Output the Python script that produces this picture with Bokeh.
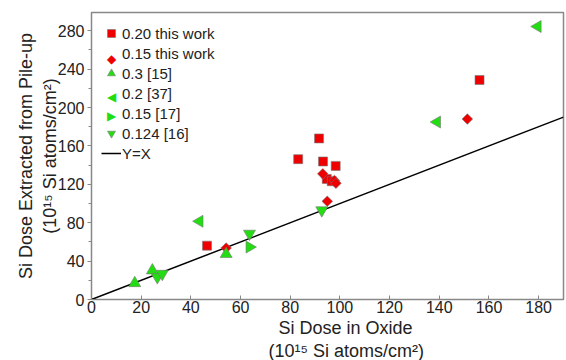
import numpy as np
from bokeh.plotting import figure
from bokeh.models import Range1d, SingleIntervalTicker, Legend, LegendItem, Label, Title
from bokeh.embed import file_html
from bokeh.resources import INLINE

# Data
sq_x = [46.5, 83.2, 91.6, 93.2, 98.3, 94.7, 96.7, 156.2]
sq_y = [56.1, 146.2, 167.8, 143.8, 139.2, 125.6, 123.2, 228.7]
dm_x = [54.2, 93.1, 97.8, 98.4, 94.9, 151.3]
dm_y = [53.6, 130.9, 124.0, 121.1, 102.3, 188.0]
up_x = [17.4, 24.5, 54.2]
up_y = [17.0, 30.3, 47.3]
lt_x = [43.5, 139.1, 179.6]
lt_y = [81.5, 184.9, 284.4]
rt_x = [63.6]
rt_y = [54.6]
dn_x = [26.5, 28.5, 63.6, 92.7]
dn_y = [23.3, 26.8, 68.6, 93.0]
line_x = [0, 190]
line_y = [0, 190]

labels = ["0.20 this work", "0.15 this work", "0.3 [15]", "0.2 [37]",
          "0.15 [17]", "0.124 [16]", "Y=X"]
x_title = ["Si Dose in Oxide", "(10\u00b9\u2075 Si atoms/cm\u00b2)"]
y_title = "Si Dose Extracted from Pile-up\n(10\u00b9\u2075 Si atoms/cm\u00b2)"

FONT = "Liberation Sans"
RED = "#ee0000"
GREEN = "#22dd11"
EDGE = "#777777"
TXT = "#222222"

p = figure(width=566, height=360, output_backend="svg", toolbar_location=None,
           x_range=Range1d(0, 190), y_range=Range1d(0, 299),
           min_border_left=91, min_border_right=3, min_border_top=12,
           min_border_bottom=0)

p.grid.visible = False
p.outline_line_color = "#888888"
p.outline_line_width = 1.5
p.background_fill_color = "white"

p.xaxis.ticker = SingleIntervalTicker(interval=20, num_minor_ticks=0)
p.yaxis.ticker = SingleIntervalTicker(interval=40, num_minor_ticks=2)
for ax in (p.xaxis[0], p.yaxis[0]):
    ax.axis_line_color = "#888888"
    ax.major_tick_line_color = "#888888"
    ax.minor_tick_line_color = "#888888"
    ax.major_label_text_font = FONT
    ax.major_label_text_font_size = "16px"
    ax.major_label_text_color = TXT
    ax.axis_label_text_font = FONT
    ax.axis_label_text_font_size = "18px"
    ax.axis_label_text_font_style = "normal"
    ax.axis_label_text_color = TXT
p.xaxis.major_tick_in = 4
p.xaxis.major_tick_out = 0
p.yaxis.major_tick_in = 0
p.yaxis.major_tick_out = 4
p.yaxis.minor_tick_in = 0
p.yaxis.minor_tick_out = 3
p.xaxis.major_label_standoff = 1
p.yaxis.major_label_standoff = 3
p.yaxis.axis_label = y_title
p.yaxis.axis_label_standoff = -5

r_line = p.line(line_x, line_y, line_color="black", line_width=1.5)
r_sq = p.scatter(sq_x, sq_y, marker="square", size=9, fill_color=RED,
                 line_color=EDGE, line_width=0.6)
r_dm = p.scatter(dm_x, dm_y, marker="square", size=7.5, angle=np.pi / 4,
                 fill_color=RED, line_color=EDGE, line_width=0.6)
r_up = p.scatter(up_x, up_y, marker="triangle", size=12, fill_color=GREEN,
                 line_color=EDGE, line_width=0.6)
r_lt = p.scatter(lt_x, lt_y, marker="triangle", size=12, angle=np.pi / 2,
                 fill_color=GREEN, line_color=EDGE, line_width=0.6)
r_rt = p.scatter(rt_x, rt_y, marker="triangle", size=12, angle=-np.pi / 2,
                 fill_color=GREEN, line_color=EDGE, line_width=0.6)
r_dn = p.scatter(dn_x, dn_y, marker="inverted_triangle", size=12,
                 fill_color=GREEN, line_color=EDGE, line_width=0.6)
# transparent stand-ins for legend rows whose icon is rotated
r_blank = p.scatter([], [], marker="square", size=1, fill_alpha=0, line_alpha=0)

legend_renderers = [r_sq, r_blank, r_up, r_blank, r_blank, r_dn, r_line]
legend = Legend(items=[LegendItem(label=labels[i], renderers=[r])
                       for i, r in enumerate(legend_renderers)],
                location=(10, 136))
legend.border_line_color = None
legend.background_fill_alpha = 0
legend.label_text_font = FONT
legend.label_text_font_size = "15px"
legend.label_text_color = TXT
legend.margin = 0
legend.padding = 0
legend.spacing = -1
legend.label_height = 20
legend.glyph_height = 20
legend.glyph_width = 20
legend.label_standoff = 1
p.add_layout(legend)

# rotated legend icons (row index, glyph, colour)
icons = [(1, "\u25c6", RED), (3, "\u25c0", GREEN), (4, "\u25b6", GREEN)]
for row, ch, col in icons:
    p.add_layout(Label(x=20, y=286 - 26 - 19 * row, x_units="screen", y_units="screen",
                       text=ch, text_align="center", text_baseline="middle",
                       text_font="DejaVu Sans", text_font_size="12px", text_color=col))

t2 = Title(text=x_title[1], align="left", offset=177, text_font=FONT,
           text_font_size="18px", text_font_style="normal", text_color=TXT, standoff=0)
t1 = Title(text=x_title[0], align="left", offset=187, text_font=FONT,
           text_font_size="18px", text_font_style="normal", text_color=TXT, standoff=1)
p.add_layout(t1, "below")
p.add_layout(t2, "below")

open("out.html", "w").write(file_html(p, INLINE))
